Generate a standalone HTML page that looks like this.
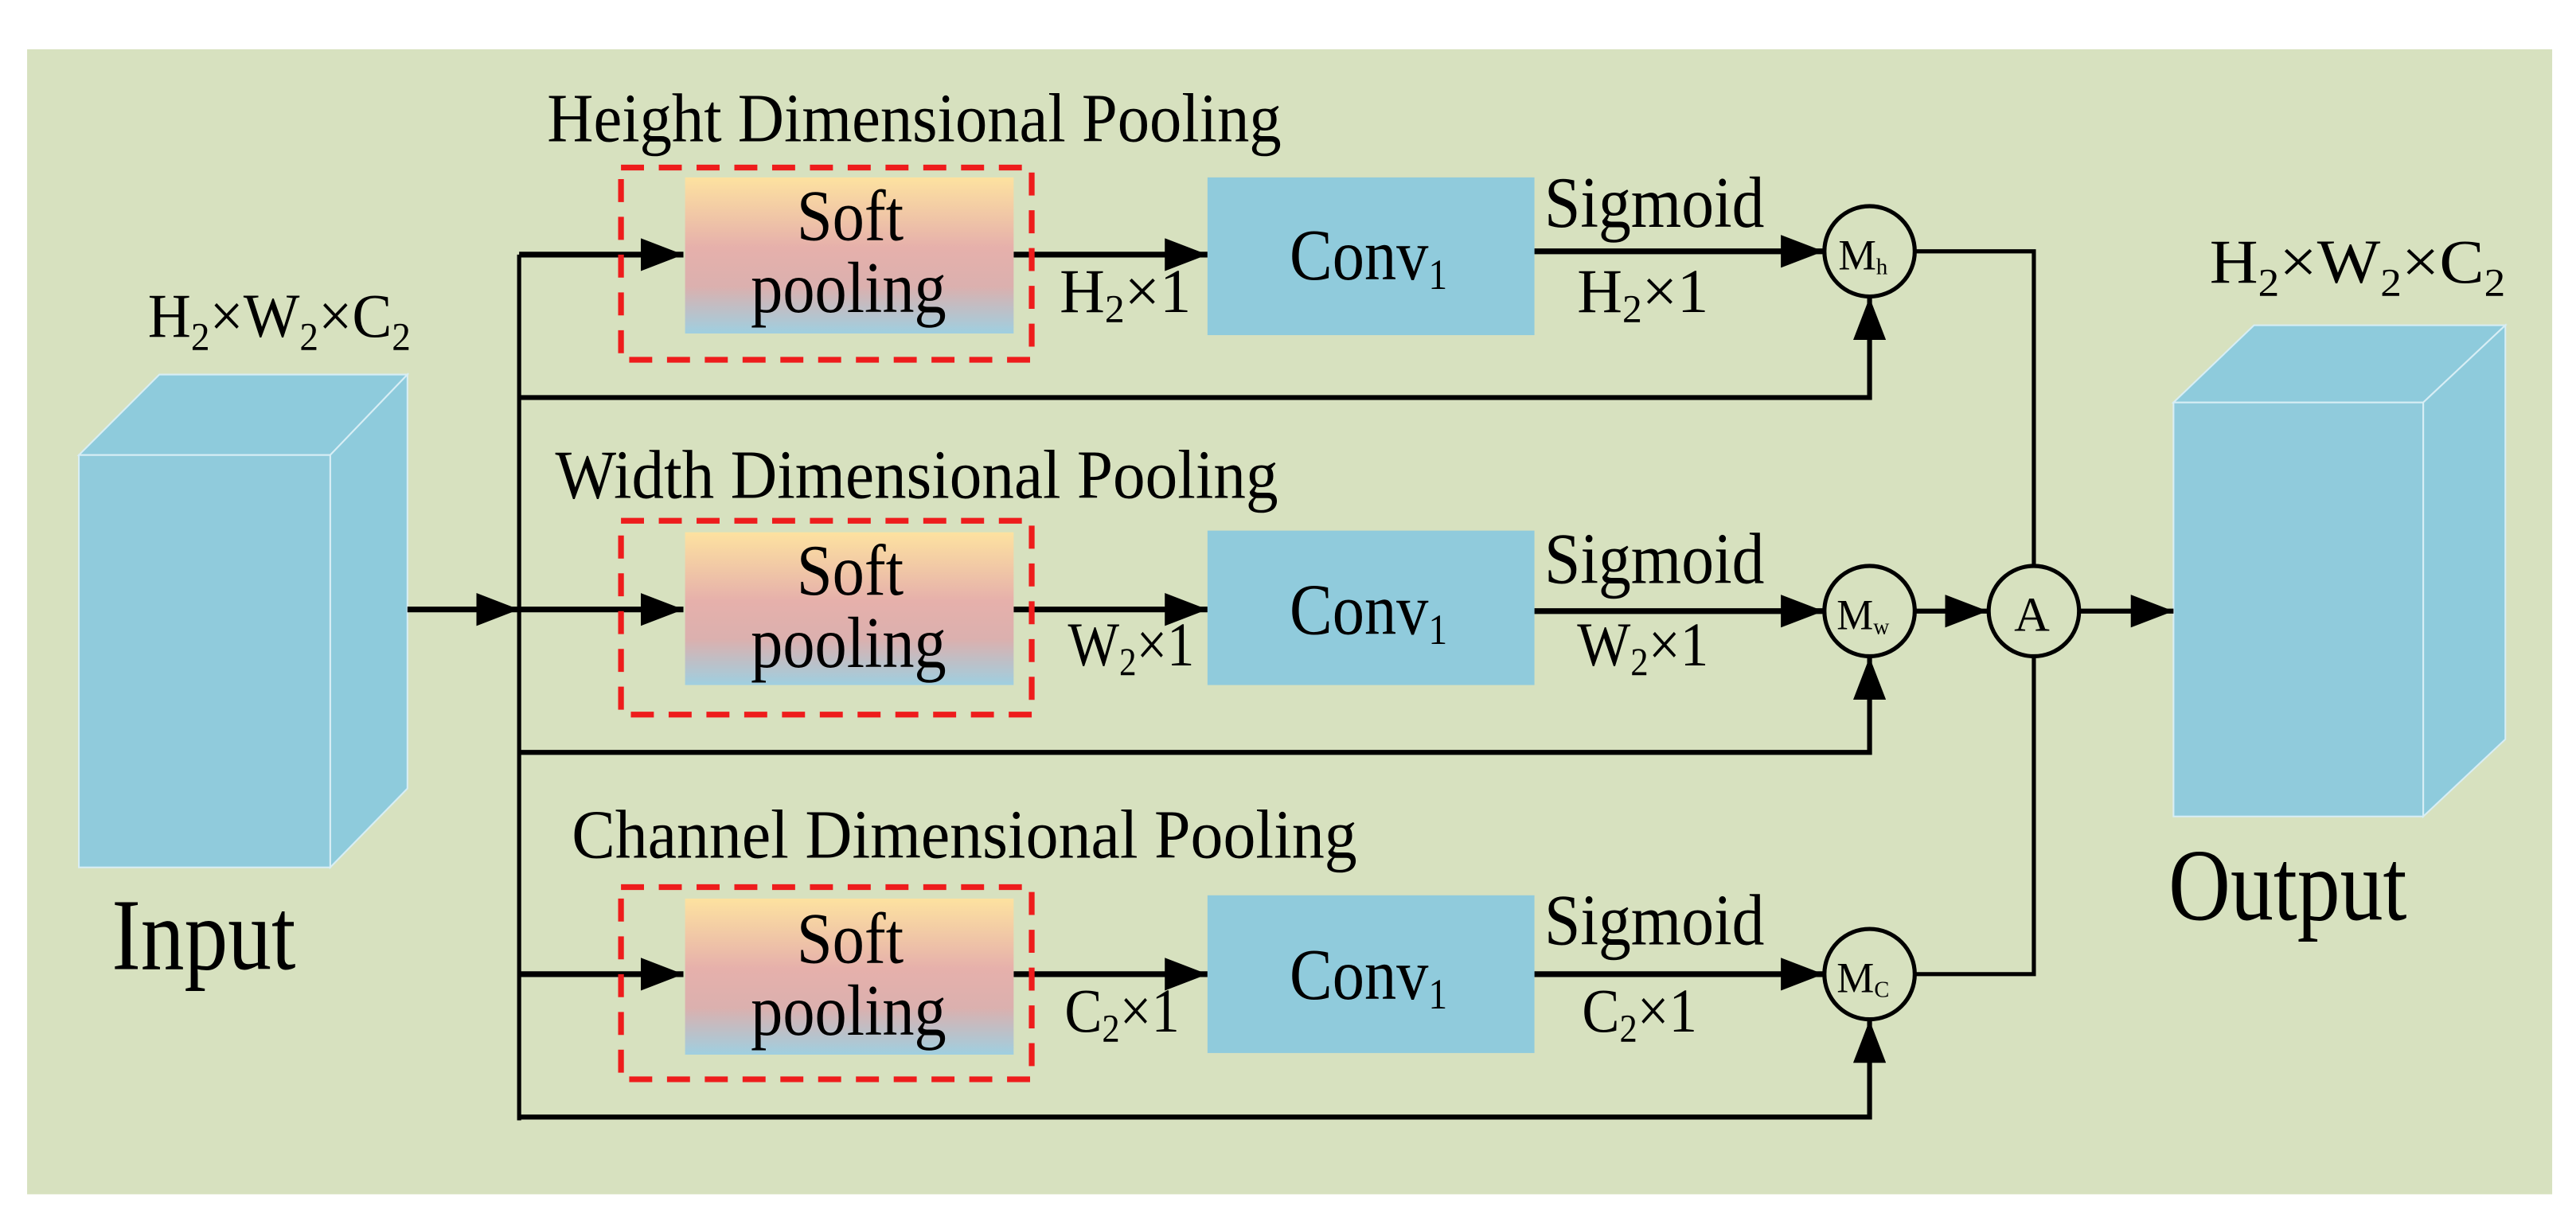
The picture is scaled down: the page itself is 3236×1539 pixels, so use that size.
<!DOCTYPE html>
<html><head><meta charset="utf-8"><style>
html,body{margin:0;padding:0;background:#fff;}
svg{display:block;}
text{font-family:"Liberation Serif","Times New Roman",serif;fill:#000;}
</style></head><body>
<svg width="3236" height="1539" viewBox="0 0 1568 745.7" preserveAspectRatio="none" xmlns="http://www.w3.org/2000/svg">
<defs>
<linearGradient id="g" x1="0" y1="0" x2="0" y2="1">
<stop offset="0" stop-color="#fde2a0"/>
<stop offset="0.45" stop-color="#e6b0ab"/>
<stop offset="0.7" stop-color="#dbb0ae"/>
<stop offset="1" stop-color="#9fcfe0"/>
</linearGradient>
<marker id="a" markerWidth="26" markerHeight="20" refX="10" refY="5" orient="auto" markerUnits="userSpaceOnUse" viewBox="0 0 10 10" preserveAspectRatio="none">
<path d="M0,0 L10,5 L0,10z" fill="#000"/></marker>
</defs>
<rect x="0" y="0" width="1568" height="745.7" fill="#fff"/>
<rect x="16.5" y="30" width="1537" height="697" fill="#d7e1bf"/>

<polygon points="48,277 97,228 248,228 201,277" fill="#8ecbdc" stroke="#d8eef5" stroke-width="1"/>
<polygon points="201,277 248,228 248,480 201,528" fill="#8ecbdc" stroke="#d8eef5" stroke-width="1"/>
<rect x="48" y="277" width="153" height="251" fill="#90cbdc" stroke="#d8eef5" stroke-width="1"/>
<polygon points="1323,245 1372,198 1525,198 1475,245" fill="#8ecbdc" stroke="#d8eef5" stroke-width="1"/>
<polygon points="1475,245 1525,198 1525,450 1475,497" fill="#8ecbdc" stroke="#d8eef5" stroke-width="1"/>
<rect x="1323" y="245" width="152" height="252" fill="#90cbdc" stroke="#d8eef5" stroke-width="1"/>

<text x="90" y="205" font-size="38" textLength="160" lengthAdjust="spacingAndGlyphs">H<tspan font-size="24" dy="8">2</tspan><tspan dy="-8">×W</tspan><tspan font-size="24" dy="8">2</tspan><tspan dy="-8">×C</tspan><tspan font-size="24" dy="8">2</tspan></text>
<text x="1345" y="172" font-size="38" textLength="180" lengthAdjust="spacingAndGlyphs">H<tspan font-size="24" dy="8">2</tspan><tspan dy="-8">×W</tspan><tspan font-size="24" dy="8">2</tspan><tspan dy="-8">×C</tspan><tspan font-size="24" dy="8">2</tspan></text>
<text x="68" y="590" font-size="62" textLength="112" lengthAdjust="spacingAndGlyphs">Input</text>
<text x="1320" y="560" font-size="62" textLength="145" lengthAdjust="spacingAndGlyphs">Output</text>

<text x="333" y="86" font-size="42" textLength="447" lengthAdjust="spacingAndGlyphs">Height Dimensional Pooling</text>
<text x="338" y="303" font-size="42" textLength="440" lengthAdjust="spacingAndGlyphs">Width Dimensional Pooling</text>
<text x="348" y="522" font-size="42" textLength="478" lengthAdjust="spacingAndGlyphs">Channel Dimensional Pooling</text>

<g fill="none" stroke="#000">
<line x1="248" y1="371" x2="316" y2="371" stroke-width="3.5" marker-end="url(#a)"/>
<line x1="316" y1="155" x2="316" y2="682" stroke-width="2.5"/>
<line x1="316" y1="155" x2="416" y2="155" stroke-width="3.5" marker-end="url(#a)"/>
<line x1="316" y1="371" x2="416" y2="371" stroke-width="3.5" marker-end="url(#a)"/>
<line x1="316" y1="593" x2="416" y2="593" stroke-width="3.5" marker-end="url(#a)"/>
<line x1="617" y1="155" x2="735" y2="155" stroke-width="3.5" marker-end="url(#a)"/>
<line x1="617" y1="371" x2="735" y2="371" stroke-width="3.5" marker-end="url(#a)"/>
<line x1="617" y1="593" x2="735" y2="593" stroke-width="3.5" marker-end="url(#a)"/>
<line x1="934" y1="153" x2="1110" y2="153" stroke-width="3.5" marker-end="url(#a)"/>
<line x1="934" y1="372" x2="1110" y2="372" stroke-width="3.5" marker-end="url(#a)"/>
<line x1="934" y1="593" x2="1110" y2="593" stroke-width="3.5" marker-end="url(#a)"/>
<polyline points="316,242 1138,242 1138,181" stroke-width="3" marker-end="url(#a)"/>
<polyline points="316,458 1138,458 1138,400" stroke-width="3" marker-end="url(#a)"/>
<polyline points="316,680 1138,680 1138,621" stroke-width="3" marker-end="url(#a)"/>
<polyline points="1166,153 1238,153 1238,345" stroke-width="2.5"/>
<polyline points="1166,593 1238,593 1238,400" stroke-width="2.5"/>
<line x1="1166" y1="372" x2="1210" y2="372" stroke-width="3" marker-end="url(#a)"/>
<line x1="1266" y1="372" x2="1323" y2="372" stroke-width="3" marker-end="url(#a)"/>
<circle cx="1138" cy="153" r="27.5" stroke-width="2.5" fill="#d7e1bf"/>
<circle cx="1138" cy="372" r="27.5" stroke-width="2.5" fill="#d7e1bf"/>
<circle cx="1138" cy="593" r="27.5" stroke-width="2.5" fill="#d7e1bf"/>
<circle cx="1238" cy="372" r="27.5" stroke-width="2.5" fill="#d7e1bf"/>
</g>

<rect x="417" y="108" width="200" height="95" fill="url(#g)"/>
<rect x="417" y="324" width="200" height="93" fill="url(#g)"/>
<rect x="417" y="547" width="200" height="95" fill="url(#g)"/>
<rect x="735" y="108" width="199" height="96" fill="#90cbdc"/>
<rect x="735" y="323" width="199" height="94" fill="#90cbdc"/>
<rect x="735" y="545" width="199" height="96" fill="#90cbdc"/>
<g fill="none" stroke="#ee1c1c" stroke-width="3.5" stroke-dasharray="14,9">
<rect x="378" y="102" width="250" height="117"/>
<rect x="378" y="317" width="250" height="118"/>
<rect x="378" y="540" width="250" height="117"/>
</g>

<g font-size="44">
<text x="485" y="146" textLength="65" lengthAdjust="spacingAndGlyphs">Soft</text>
<text x="457" y="190" textLength="119" lengthAdjust="spacingAndGlyphs">pooling</text>
<text x="485" y="362" textLength="65" lengthAdjust="spacingAndGlyphs">Soft</text>
<text x="457" y="406" textLength="119" lengthAdjust="spacingAndGlyphs">pooling</text>
<text x="485" y="586" textLength="65" lengthAdjust="spacingAndGlyphs">Soft</text>
<text x="457" y="630" textLength="119" lengthAdjust="spacingAndGlyphs">pooling</text>
<text x="785" y="170" textLength="96" lengthAdjust="spacingAndGlyphs">Conv<tspan font-size="26" dy="6">1</tspan></text>
<text x="785" y="386" textLength="96" lengthAdjust="spacingAndGlyphs">Conv<tspan font-size="26" dy="6">1</tspan></text>
<text x="785" y="608" textLength="96" lengthAdjust="spacingAndGlyphs">Conv<tspan font-size="26" dy="6">1</tspan></text>
<text x="940" y="138" textLength="134" lengthAdjust="spacingAndGlyphs">Sigmoid</text>
<text x="940" y="355" textLength="134" lengthAdjust="spacingAndGlyphs">Sigmoid</text>
<text x="940" y="575" textLength="134" lengthAdjust="spacingAndGlyphs">Sigmoid</text>
</g>
<g font-size="38">
<text x="645" y="190" textLength="80" lengthAdjust="spacingAndGlyphs">H<tspan font-size="24" dy="6">2</tspan><tspan dy="-6">×1</tspan></text>
<text x="960" y="190" textLength="80" lengthAdjust="spacingAndGlyphs">H<tspan font-size="24" dy="6">2</tspan><tspan dy="-6">×1</tspan></text>
<text x="650" y="405" textLength="77" lengthAdjust="spacingAndGlyphs">W<tspan font-size="24" dy="6">2</tspan><tspan dy="-6">×1</tspan></text>
<text x="960" y="405" textLength="80" lengthAdjust="spacingAndGlyphs">W<tspan font-size="24" dy="6">2</tspan><tspan dy="-6">×1</tspan></text>
<text x="648" y="628" textLength="70" lengthAdjust="spacingAndGlyphs">C<tspan font-size="24" dy="6">2</tspan><tspan dy="-6">×1</tspan></text>
<text x="963" y="628" textLength="70" lengthAdjust="spacingAndGlyphs">C<tspan font-size="24" dy="6">2</tspan><tspan dy="-6">×1</tspan></text>
</g>
<g font-size="26">
<text x="1119" y="164" textLength="30" lengthAdjust="spacingAndGlyphs">M<tspan font-size="14" dy="3">h</tspan></text>
<text x="1118" y="383" textLength="32" lengthAdjust="spacingAndGlyphs">M<tspan font-size="14" dy="3">w</tspan></text>
<text x="1118" y="604" textLength="32" lengthAdjust="spacingAndGlyphs">M<tspan font-size="14" dy="3">C</tspan></text>
<text x="1226" y="384" font-size="30">A</text>
</g>
</svg>
</body></html>
